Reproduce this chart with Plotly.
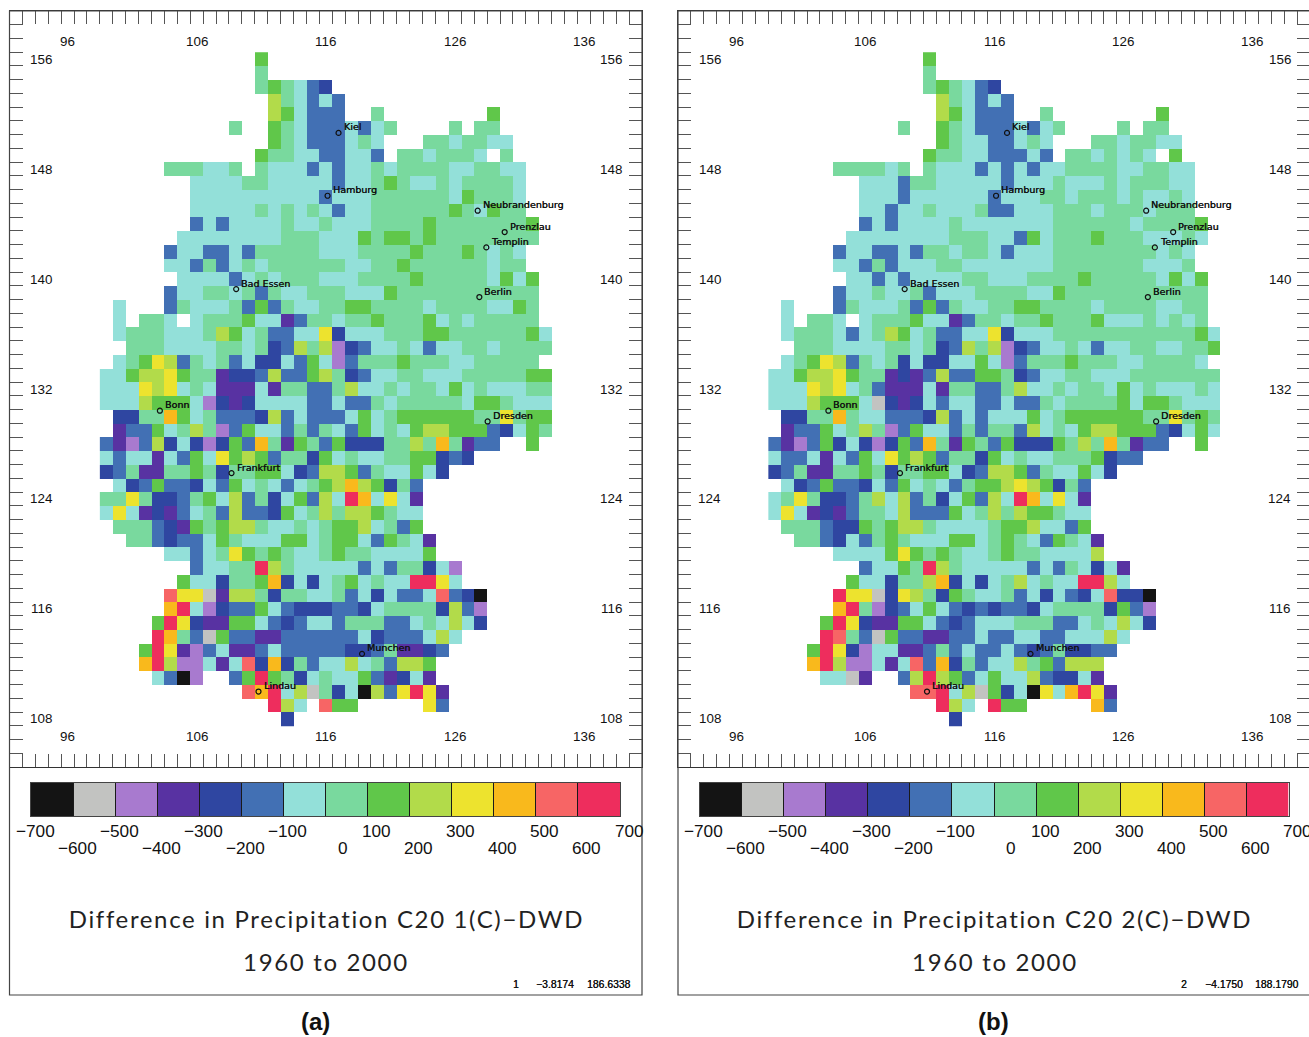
import plotly.graph_objects as go

W, H = 1312, 1037

PANEL_A = [
"............V",
"............M",
"............MVMCBD",
".............YMCBCB",
".............YVCBBB..M........V",
"..........M..VMCBBBCBCM....M.MM",
".............VMCBBBCMC...MMCMMCC",
"............VMMCCBBCCB.MMCMMMC.M",
".....MMMCCM.MCCCBCBCCMCMMMMCCMMCC",
".......CCCCMMCCCCCBCCMVMCCMCMMMMC",
".......CCCCCCCCCCBCCCMMMMMMCVMMMC",
".......CCCCCMCMCMCBCCMMMMMMVMCVMM",
".......BCBCCCCMCCMCCCMMMMVMMMMMMMV",
"......CCCCCCCCMMMCCCVMVVMVMMMMMMMM",
".....BCCBBCBMMMMMCCCMMMMVMMMVMCMC",
".....CCBMBCMCMMMMMMCCMMVMMMMMMCMM",
"......CCCCBCMCMMMCCCMMMMVMMMMMCVCV",
".....BCCMMCMBMCCMMMCCCVMMMMMMMMMMM",
".C...BMCCCMBVBMCCMMVVMMMMCMMMMCCVM",
".C.MMC.CMMMVCCPBMMCMMVMMMVCMCMMMMM",
".CMMMCCCMYVCMBBCCEDCCCMMMVVMMMMMMVC",
"..MMMCCCCMMCMDBYMYLDBCCMCBCCMMCMMMM",
".CMVEYBMCMBCDDCBVCLBMMMVMMMCCMMMMM",
"CCVYYEVMMPDDBYBBVYMDBCCMMCCCMMMMMVV",
"CCCEYECMCPPPCPMMBBMYCCMCMMCVCMCCCMM",
"CCCYVVVCLDPDCCCCBBCBBMCMMMMMCVVMCCC",
".DDMMOVCMBBBDYBCBBBCVCMVVVVVVMMEMVV",
".PBBVCMYMLBVCCBMBMCBVCMCVYYVVVBDCVM",
"BPLBYDCDLDVBOMPVMBVDDDMMYMOMPBB..V",
"CBCCPCBVCEVYVBMMDVCMCCMMVVDBD",
"DBMPPMMVMDMMVVCDBYYVBMCCVCD",
".CDBVBBDCBVCMCBCMVYOYVDMB",
"MMEMDDBMVCYBMDCVBYCROCECP",
"CECPDPBCMBYBBDVCMYMYYVMCC",
".MMMBDPVMVYYMCCMCMVVYCMBV",
"..MMBDBBCVMCCCVVCMVVCBVMCP",
".....CCBCMEVMVMCCMVMMCCCCV",
".......BCCMMRYMCCCCCBCBMMDCL",
"......VCCDMMVODCDCMVCMCCRREC",
".....SEEGPYYMDMMCCMBCDCBBCSBDK",
".....ORCLDBBVCBDDDBBDCMMMMDYBL",
"....VREDPPVVCBDBCCBMMMBBCMCYCD",
"....ROMBGVBBPPBBBBBBCDBBBCYC",
"...VREPLBCPPBCBBBBBDDBMPPDB",
"...ORYLLCPCSDODMBCCYCMBYYV",
"....CBKL..BVRVMDCMCCVBPDCP",
"...........SORCYGMDCKYBEREP",
".............RYC.SVV.....EB",
"..............D",
]

PANEL_B = [
"............V",
"............M",
"............MVMCBD",
".............YMCBCB",
".............YVCBBB..M........V",
"..........M..VMCBBBCBCM....M.MM",
".............VMCCBBCMC...MMCMMCC",
"............VMMCCBBBCB.MMCMCMC.V",
".....MMMMCM.MCCCBCBCBCCMMMMCCMMCC",
".......CCCBMMCCCCCBCCCMCCCMCMMMCC",
".......CCCBCCCCCCBCCCMMCMMMCMCCMC",
".......CCBCCMCCCMBBCCCMMMCMMMCMMM",
".......BCBCCCCMCCCCCCCMMMMMMCMMMMV",
"......CCCCCCCCMMMCCBVCMMMVMMMCCCMC",
".....BCCBBCBMMCMMCBCCCMMMMMMMMCMC",
".....CCBMBCCCMMCCCCCCCMMMMMMMCCCM",
"......CCBCBCCCCMMCCCMMMMVMMMMMCVCV",
".....BCCMCCMBCCCMMMMCCVMMMMMMMMMMM",
".C...BMCCCMBVBMCCMMVVMMMMCMMMMCCMM",
".C.MMC.CMMMVCCPBMMCMMVMMMVCCCMCMCM",
".CMMMCBCMYVCMBBCCEDCCCMMMMMMMMMMMVC",
"..MMMCCCCMMCMDBYMYLDBCCMCBCCMMCCMMV",
".CMVEYBMCMDCDDCCVCLBMMMVMMMCCMMMMC",
"CCVYYEVMMPDPBYBBVVMDBCCMMCCCMMMMMMM",
"CCCEYECMBPPPCPMMBBMYCCMCMMCVCMCCCMC",
"CCCYVVVCGDPDCBCCBBCBBMCMMMMVCVVMCCC",
".DDMMOMCCBBBDYBCBCCCVCMVVVVVVMMEMVM",
".PBBVCMYMLBVCCBMBMMBYCMCVYYVVVBDCVC",
"BPLBVDCDLDVBOMPVMBVDDDVMYMOMPBB..V",
"CBBCPCBVCEVYVBMMDVCMCCMMMVDBB",
"DBMPPMMVMDMMVVCDBYYVBMCCVCD",
".CDBVBBDCBVCMCBMVVYEYVDMB",
"CMEMDDBMYCYBMDCVBYCROCECP",
"CECPDPBMMCYBBBVCMYMYVVMCC",
".MMMBDDVMVYYMCCCCMVVYCCBV",
"..MMBDCBMVMCCCVVCMVMCBVMCP",
".....CCCCVEVMVMCCMVMMCCCCY",
".......BCCVMRYMCCCCCBCBMCDCP",
"......VCCDMMYODCDCMYCMCCRRYC",
".....REEGDEYMDVMCCMBCDCBDCSDDK",
".....ORMLDBCVCBDBDBBDCMMMMDVBL",
"....VREDPPVVCBDBCCCMMMBBCMCYCD",
"....RSMBGVBBPPBBCBBCCBBCCCYC",
"...VREDLCCPPBMBCBBCBDBMDDBB",
"...ORYLLCPCSBODMBCCYMVBYYY",
"....CCGP..BYRYVBCVCCYBDDCP",
"...........SSRCYGVDCKECOREP",
".............RYC.RVV.....OB",
"..............D",
]

CLASS_CODES = list("KGLPDBCMVYEOSR")
CLASS_VALUES = [-650, -550, -450, -350, -250, -150, -50, 50, 150, 250, 350, 450, 550, 650]
CLASS_COLORS = ["#141414", "#C2C3C1", "#A87ACF", "#5832A2", "#2F46A1", "#4270B4", "#93E0D9",
                "#79D99E", "#60C74A", "#B2DB4A", "#EDE32E", "#F9B91C", "#F76565", "#EE2D5D"]
COLS = list(range(99, 134 + 1))
ROWS = list(range(156, 107, -1))
X_LABELS = [96, 106, 116, 126, 136]
Y_LABELS = [108, 116, 124, 132, 140, 148, 156]
BAR_LABELS = [-700, -600, -500, -400, -300, -200, -100, 0, 100, 200, 300, 400, 500, 600, 700]

CITY_NAMES = ["Kiel", "Hamburg", "Neubrandenburg", "Prenzlau", "Templin", "Bad Essen", "Berlin",
              "Bonn", "Dresden", "Frankfurt", "Munchen", "Lindau"]
CITY_X = [116.99, 116.14, 127.77, 129.86, 128.44, 109.06, 127.9, 103.15, 128.54, 108.70, 118.81, 110.79]
CITY_Y = [150.63, 146.06, 144.97, 143.42, 142.30, 139.27, 138.69, 130.42, 129.64, 125.88, 112.73, 109.99]

PANELS = [
    dict(rows=PANEL_A, off=0, title="Difference in Precipitation C20 1(C)\u2212DWD", tag="(a)", tag_x=315,
         stats=[("1", 516), ("\u22123.8174", 555), ("186.6338", 608.5)]),
    dict(rows=PANEL_B, off=668.5, title="Difference in Precipitation C20 2(C)\u2212DWD", tag="(b)", tag_x=993,
         stats=[("2", 515.5), ("\u22124.1750", 555), ("188.1790", 608.5)]),
]

colorscale = []
for i, c in enumerate(CLASS_COLORS):
    colorscale += [[i / 14, c], [(i + 1) / 14, c]]
code_value = dict(zip(CLASS_CODES, CLASS_VALUES))


def px(v):
    return v / W


def py(v):
    return 1 - v / H


fig = go.Figure()
annotations, shapes = [], []
DARK = "#333333"
SANS = "Liberation Sans"


def note(**kw):
    kw.setdefault("xanchor", "center")
    kw.setdefault("yanchor", "middle")
    annotations.append(dict(showarrow=False, **kw))


for n, p in enumerate(PANELS):
    off = p["off"]
    mx, my, bx, by = f"x{2*n+1}", f"y{2*n+1}", f"x{2*n+2}", f"y{2*n+2}"
    mxa, mya, bxa, bya = [f"{a}axis{2*n+1 if i < 2 else 2*n+2}" for i, a in enumerate("xyxy")]
    z = []
    for row in p["rows"]:
        padded = row.ljust(len(COLS), ".")
        z.append([code_value.get(ch) for ch in padded])
    fig.add_trace(go.Heatmap(x=COLS, y=ROWS, z=z, zmin=-700, zmax=700, colorscale=colorscale,
                             showscale=False, xaxis=mx, yaxis=my, hoverongaps=False))
    fig.add_trace(go.Scatter(x=CITY_X, y=CITY_Y, mode="markers", xaxis=mx, yaxis=my, showlegend=False,
                             marker=dict(symbol="circle-open", size=5, color="#111", line=dict(width=1.2, color="#111"))))
    fig.add_trace(go.Heatmap(x=CLASS_VALUES, y=[0.5], z=[CLASS_VALUES], zmin=-700, zmax=700,
                             colorscale=colorscale, showscale=False, xaxis=bx, yaxis=by))

    common = dict(showline=True, linecolor=DARK, linewidth=1.2, mirror="ticks", ticks="inside",
                  ticklen=13, tickwidth=1, tickcolor="#555", showticklabels=False, showgrid=False, zeroline=False)
    fig.update_layout({
        mxa: dict(domain=[px(9.5 + off), px(642 + off)], range=[91.5, 140.5], tick0=91.5, dtick=1, anchor=my, **common),
        mya: dict(domain=[py(767), py(11)], range=[104.5, 159.5], tick0=104.5, dtick=1, anchor=mx, **common),
        bxa: dict(domain=[px(31 + off), px(620 + off)], range=[-700, 700], tick0=-700, dtick=100, anchor=by,
                  showline=True, linecolor="#444", linewidth=1.2, mirror=True, ticks="inside", ticklen=33,
                  tickwidth=1, tickcolor="#1a1a1a", showticklabels=False, showgrid=False, zeroline=False),
        bya: dict(domain=[py(816), py(783)], range=[0, 1], anchor=bx, showline=True, linecolor="#444", linewidth=1.2,
                  mirror=True, ticks="", showticklabels=False, showgrid=False, zeroline=False),
    })

    shapes.append(dict(type="rect", xref="paper", yref="paper", x0=px(9.5 + off), x1=px(642 + off),
                       y0=py(995), y1=py(11), line=dict(color="#444", width=1.2)))

    tick_font = dict(family=SANS, size=13.4, color="#111")
    for v in X_LABELS:
        for yv in (157.3, 106.72):
            note(x=v, y=yv, xref=mx, yref=my, text=str(v), font=tick_font)
    for v in Y_LABELS:
        for xv in (93.95, 138.1):
            note(x=xv, y=v, xref=mx, yref=my, text=str(v), font=tick_font)
    for name, cx, cy in zip(CITY_NAMES, CITY_X, CITY_Y):
        note(x=cx, y=cy, xref=mx, yref=my, text=name, xanchor="left", xshift=3, yshift=6,
             font=dict(family="DejaVu Sans", size=9.5, color="#111", shadow="0.35px 0 0 #111"))
    for i, v in enumerate(BAR_LABELS):
        shift = 17 if v == 0 else (9 if v > 0 else 4)
        label = str(v).replace("-", "\u2212")
        note(x=v, xref=bx, y=py(831 if i % 2 == 0 else 848), yref="paper", text=label, xshift=shift,
             font=dict(family=SANS, size=17.2, color="#111"))
    title_font = dict(family="Lato", size=24, color="#222")
    note(x=px(326 + off), y=py(918.5), xref="paper", yref="paper", text=p["title"], font=title_font)
    note(x=px(326 + off), y=py(961.5), xref="paper", yref="paper", text="1960 to 2000", font=title_font)
    for txt, sx in p["stats"]:
        note(x=px(sx + off), y=py(984), xref="paper", yref="paper", text=txt,
             font=dict(family=SANS, size=10.4, color="#111", shadow="0.3px 0 0 #111"))
    note(x=px(p["tag_x"]), y=py(1021), xref="paper", yref="paper", text=f"<b>{p['tag']}</b>",
         font=dict(family=SANS, size=24, color="#111"))

fig.update_layout(width=W, height=H, margin=dict(l=0, r=0, t=0, b=0), paper_bgcolor="white", plot_bgcolor="white",
                  showlegend=False, annotations=annotations, shapes=shapes)
POST = """
document.body.style.margin='0';document.body.style.overflow='hidden';
document.querySelectorAll('.annotation-text').forEach(function(t){
  var s=t.textContent;
  if(s.indexOf('Difference')===0||s.indexOf('1960')===0){t.style.letterSpacing='1.65px';}
});
"""
fig.write_html("out.html", config={"displayModeBar": False}, post_script=POST)
